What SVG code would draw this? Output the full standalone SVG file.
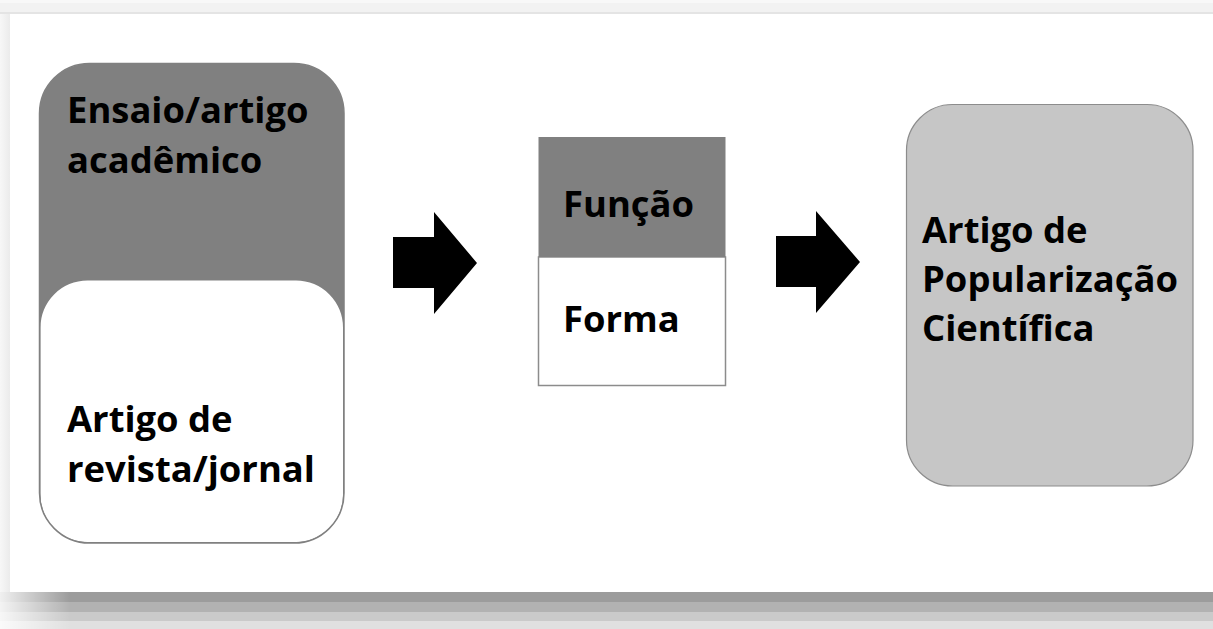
<svg xmlns="http://www.w3.org/2000/svg" width="1213" height="629" viewBox="0 0 1213 629">
  <defs>
    <style>
      .lbl { font-family: "Open Sans", "Noto Sans", "DejaVu Sans", sans-serif; font-weight: 700; font-size: 36.4px; fill: #000; }
      .arrow { fill: #000; }
    </style>
    <linearGradient id="edgeLeft" x1="0" y1="0" x2="1" y2="0">
      <stop offset="0" stop-color="#f7f7f7"/>
      <stop offset="1" stop-color="#ebebeb"/>
    </linearGradient>
    <linearGradient id="fadeIn" x1="0" y1="0" x2="1" y2="0">
      <stop offset="0" stop-color="#ffffff" stop-opacity="0.85"/>
      <stop offset="1" stop-color="#ffffff" stop-opacity="0"/>
    </linearGradient>
  </defs>

  <!-- page background and panel frame -->
  <rect x="0" y="0" width="1213" height="629" fill="#f2f2f2"/>
  <rect x="0" y="0" width="1213" height="3" fill="#f8f8f8"/>
  <rect x="0" y="12" width="1213" height="2" fill="#e4e4e4"/>
  <rect x="0" y="14" width="10" height="578" fill="url(#edgeLeft)"/>
  <!-- bottom shadow bands -->
  <rect x="0" y="592" width="1213" height="10" fill="#9c9c9c"/>
  <rect x="0" y="602" width="1213" height="10" fill="#b2b2b2"/>
  <rect x="0" y="612" width="1213" height="9" fill="#cacaca"/>
  <rect x="0" y="621" width="1213" height="8" fill="#e0e0e0"/>
  <rect x="0" y="592" width="70" height="37" fill="url(#fadeIn)"/>
  <!-- white panel -->
  <rect x="10" y="14" width="1203" height="578" fill="#ffffff"/>

  <!-- connectors -->
  <g id="connectors">
    <polygon class="arrow" points="393,237 434,237 434,212 477,263 434,314 434,288 393,288"/>
    <polygon class="arrow" points="776,236 816,236 816,211 860,262 816,313 816,287 776,287"/>
  </g>

  <!-- source: academic essay over magazine article -->
  <g id="node-source">
    <rect x="39.5" y="63.5" width="304.5" height="479.5" rx="50" ry="50" fill="#808080"/>
    <path d="M40.5,328 A47,47 0 0 1 87.5,280.5 L296,280.5 A47,47 0 0 1 343,328 L343,495 A47,47 0 0 1 296,542 L87.5,542 A47,47 0 0 1 40.5,495 Z" fill="#ffffff"/>
    <rect x="39.5" y="63.5" width="304.5" height="479.5" rx="50" ry="50" fill="none" stroke="#808080" stroke-width="1.5"/>
    <text class="lbl" x="67" y="123">Ensaio/artigo</text>
    <text class="lbl" x="67" y="173">acadêmico</text>
    <text class="lbl" x="67" y="432">Artigo de</text>
    <text class="lbl" x="67" y="482">revista/jornal</text>
  </g>

  <!-- middle: function / form -->
  <g id="node-middle">
    <rect x="538.5" y="257" width="187" height="128.5" fill="#ffffff" stroke="#8c8c8c" stroke-width="1.5"/>
    <rect x="538.5" y="137" width="187" height="120" fill="#808080"/>
    <text class="lbl" x="563" y="217">Função</text>
    <text class="lbl" x="563" y="332">Forma</text>
  </g>

  <!-- target: popular science article -->
  <g id="node-target">
    <rect x="906.5" y="104.5" width="286.5" height="381.5" rx="46" ry="46" fill="#c6c6c6" stroke="#8c8c8c" stroke-width="1.2"/>
    <text class="lbl" x="922" y="243">Artigo de</text>
    <text class="lbl" x="922" y="292">Popularização</text>
    <text class="lbl" x="922" y="341">Científica</text>
  </g>
</svg>
